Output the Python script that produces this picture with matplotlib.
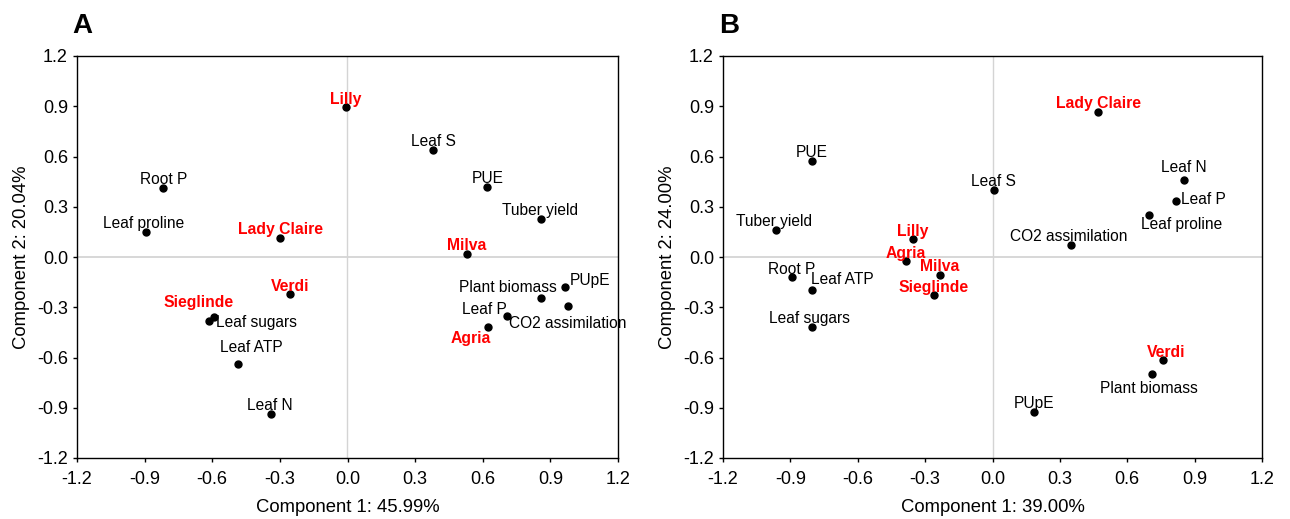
import numpy as np
import matplotlib.pyplot as plt

plt.rcParams['font.family'] = ['Liberation Sans', 'DejaVu Sans']

# panel A: variables (black) and cultivars (red)
a_vars = ['Root P', 'Leaf proline', 'Leaf S', 'PUE', 'Tuber yield', 'Leaf sugars',
          'Leaf ATP', 'Leaf N', 'Plant biomass', 'PUpE', 'Leaf P', 'CO2 assimilation']
a_vx = [-0.817, -0.895, 0.38, 0.62, 0.857, -0.592, -0.487, -0.34, 0.858, 0.963, 0.708, 0.98]
a_vy = [0.41, 0.147, 0.64, 0.42, 0.229, -0.36, -0.64, -0.938, -0.247, -0.179, -0.35, -0.293]
a_cult = ['Lilly', 'Lady Claire', 'Milva', 'Verdi', 'Sieglinde', 'Agria']
a_cx = [-0.008, -0.298, 0.53, -0.253, -0.613, 0.623]
a_cy = [0.898, 0.116, 0.018, -0.223, -0.384, -0.416]

# panel B
b_vars = ['PUE', 'Leaf S', 'Leaf N', 'Leaf P', 'Leaf proline', 'Tuber yield',
          'CO2 assimilation', 'Root P', 'Leaf ATP', 'Leaf sugars', 'Plant biomass', 'PUpE']
b_vx = [-0.803, 0.005, 0.851, 0.817, 0.695, -0.962, 0.348, -0.894, -0.802, -0.805, 0.71, 0.187]
b_vy = [0.571, 0.40, 0.461, 0.333, 0.252, 0.159, 0.069, -0.121, -0.196, -0.419, -0.70, -0.924]
b_cult = ['Lady Claire', 'Lilly', 'Agria', 'Milva', 'Sieglinde', 'Verdi']
b_cx = [0.47, -0.356, -0.385, -0.235, -0.262, 0.761]
b_cy = [0.866, 0.105, -0.023, -0.106, -0.226, -0.614]

# label offsets in pixels (dx, dy of baseline) and alignment
a_voff = {'Root P': (0, 4, 'center'), 'Leaf proline': (-2, 4, 'center'), 'Leaf S': (0, 4, 'center'),
          'PUE': (0, 4, 'center'), 'Tuber yield': (-1, 4, 'center'), 'Leaf sugars': (2, -10, 'left'),
          'Leaf ATP': (14, 12, 'center'), 'Leaf N': (-1, 4, 'center'), 'Plant biomass': (16, 6, 'right'),
          'PUpE': (5, 2, 'left'), 'Leaf P': (0, 2, 'right'), 'CO2 assimilation': (-1, -22, 'center')}
a_coff = {'Lilly': (0, 3, 'center'), 'Lady Claire': (0, 4, 'center'), 'Milva': (0, 4, 'center'),
          'Verdi': (0, 3, 'center'), 'Sieglinde': (-11, 14, 'center'), 'Agria': (-17, -16, 'center')}
b_voff = {'PUE': (0, 4, 'center'), 'Leaf S': (0, 4, 'center'), 'Leaf N': (0, 8, 'center'),
          'Leaf P': (5, -3, 'left'), 'Leaf proline': (-8, -14, 'left'), 'Tuber yield': (-2, 4, 'center'),
          'CO2 assimilation': (-2, 4, 'center'), 'Root P': (0, 3, 'center'), 'Leaf ATP': (-1, 6, 'left'),
          'Leaf sugars': (-2, 4, 'center'), 'Plant biomass': (-3, -19, 'center'), 'PUpE': (0, 4, 'center')}
b_coff = {'Lady Claire': (0, 4, 'center'), 'Lilly': (0, 3, 'center'), 'Agria': (0, 3, 'center'),
          'Milva': (0, 4, 'center'), 'Sieglinde': (0, 3, 'center'), 'Verdi': (3, 3, 'center')}

W, H = 1290, 519
fig = plt.figure(figsize=(W / 100, H / 100), dpi=100)
axA = fig.add_axes([77 / W, 1 - 458 / H, 541 / W, 402 / H])
axB = fig.add_axes([723 / W, 1 - 458 / H, 539 / W, 402 / H])

ticks = np.arange(-1.2, 1.21, 0.3)


def panel(ax, vn, vx, vy, voff, cn, cx, cy, coff, xlab, ylab, letter):
    ax.axhline(0, color='#d4d4d4', lw=1.3, zorder=0)
    ax.axvline(0, color='#d4d4d4', lw=1.0, zorder=0)
    ax.plot(vx, vy, 'o', color='black', ms=5, zorder=3)
    ax.plot(cx, cy, 'o', color='black', ms=5, zorder=3)
    for n, x, y in zip(vn, vx, vy):
        dx, dy, ha = voff[n]
        ax.annotate(n, (x, y), xytext=(dx, dy), textcoords='offset pixels',
                    ha=ha, va='baseline', fontsize=11.2, color='black')
    for n, x, y in zip(cn, cx, cy):
        dx, dy, ha = coff[n]
        ax.annotate(n, (x, y), xytext=(dx, dy), textcoords='offset pixels',
                    ha=ha, va='baseline', fontsize=11.3, color='red', fontweight='bold')
    ax.set_xlim(-1.2, 1.2)
    ax.set_ylim(-1.2, 1.2)
    ax.set_xticks(ticks)
    ax.set_yticks(ticks)
    ax.set_xticklabels(['%.1f' % t for t in ticks])
    ax.set_yticklabels(['%.1f' % t for t in ticks])
    ax.tick_params(direction='out', length=3, width=1, labelsize=13,
                   top=False, right=False)
    ax.tick_params(axis='x', pad=6)
    ax.tick_params(axis='y', pad=3.5)
    ax.set_xlabel(xlab, fontsize=13.3, labelpad=8)
    ax.set_ylabel(ylab, fontsize=13.3, labelpad=5)
    for s in ax.spines.values():
        s.set_linewidth(1)
    ax.text(-0.008, 1.057, letter, transform=ax.transAxes, fontsize=20, fontweight='bold',
            ha='left', va='baseline')


panel(axA, a_vars, a_vx, a_vy, a_voff, a_cult, a_cx, a_cy, a_coff,
      'Component 1: 45.99%', 'Component 2: 20.04%', 'A')
panel(axB, b_vars, b_vx, b_vy, b_voff, b_cult, b_cx, b_cy, b_coff,
      'Component 1: 39.00%', 'Component 2: 24.00%', 'B')

fig.savefig('out.png', dpi=100)
